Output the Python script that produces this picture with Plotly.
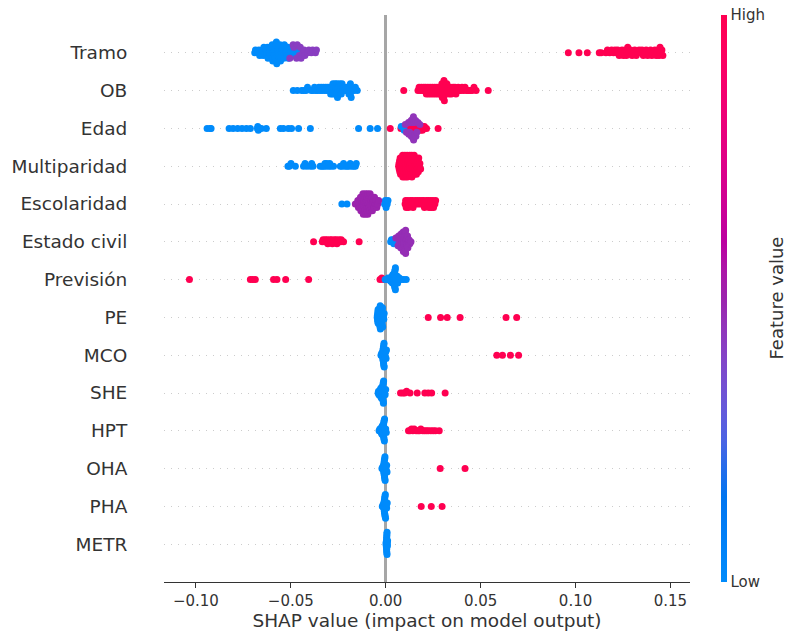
import numpy as np
import plotly.graph_objects as go

features = ["Tramo", "OB", "Edad", "Multiparidad", "Escolaridad", "Estado civil",
            "Previsión", "PE", "MCO", "SHE", "HPT", "OHA", "PHA", "METR"]

# ---- SHAP values, grouped by the (normalised) feature value of each sample ----
# low -> feature value 0 (blue), mid -> purple, high -> feature value 1 (red)
tramo_low = [-0.0690, -0.0686, -0.0672, -0.0668, -0.0664, -0.0652, -0.0648, -0.0645, -0.0642,
             -0.0632, -0.0629, -0.0626, -0.0623, -0.0620, -0.0612, -0.0609, -0.0606, -0.0603,
             -0.0600, -0.0598, -0.0595, -0.0590, -0.0588, -0.0586, -0.0584, -0.0582, -0.0580,
             -0.0578, -0.0576, -0.0574, -0.0568, -0.0566, -0.0564, -0.0562, -0.0560, -0.0557,
             -0.0554, -0.0547, -0.0545, -0.0542, -0.0540, -0.0537, -0.0534, -0.0525, -0.0522,
             -0.0519, -0.0516, -0.0513, -0.0503, -0.0500, -0.0497, -0.0494, -0.0483, -0.0480,
             -0.0477, -0.0462, -0.0458]
tramo_mid = [-0.0505, -0.0488, -0.0484, -0.0470, -0.0466, -0.0455, -0.0450, -0.0446, -0.0436,
             -0.0430, -0.0426, -0.0412, -0.0405, -0.0392, -0.0385, -0.0370, -0.0365]
tramo_high = [0.0962, 0.1018, 0.1062, 0.1125, 0.1135, 0.1160, 0.1168, 0.1180, 0.1190, 0.1200,
              0.1208, 0.1215, 0.1222, 0.1230, 0.1238, 0.1245, 0.1252, 0.1258, 0.1262, 0.1268,
              0.1275, 0.1282, 0.1290, 0.1298, 0.1305, 0.1312, 0.1320, 0.1328, 0.1335, 0.1342,
              0.1350, 0.1357, 0.1365, 0.1372, 0.1380, 0.1388, 0.1395, 0.1402, 0.1410, 0.1418,
              0.1425, 0.1430, 0.1435, 0.1440, 0.1445, 0.1450, 0.1455, 0.1460]

ob_low = [-0.0487, -0.0466, -0.0443, -0.0432, -0.0420, -0.0412, -0.0392, -0.0383, -0.0375,
          -0.0368, -0.0360, -0.0352, -0.0346, -0.0340, -0.0335, -0.0328, -0.0322, -0.0316,
          -0.0310, -0.0305, -0.0300, -0.0295, -0.0290, -0.0286, -0.0282, -0.0280, -0.0278,
          -0.0274, -0.0272, -0.0270, -0.0266, -0.0264, -0.0262, -0.0258, -0.0256, -0.0254,
          -0.0250, -0.0248, -0.0246, -0.0242, -0.0240, -0.0238, -0.0234, -0.0230, -0.0226,
          -0.0220, -0.0214, -0.0208, -0.0203, -0.0198, -0.0194, -0.0190, -0.0190, -0.0186,
          -0.0186, -0.0182, -0.0176, -0.0168, -0.0160, -0.0150]
ob_mid = []
ob_high = [0.0095, 0.0170, 0.0176, 0.0182, 0.0188, 0.0194, 0.0200, 0.0205, 0.0210, 0.0214,
           0.0218, 0.0222, 0.0226, 0.0230, 0.0234, 0.0238, 0.0242, 0.0246, 0.0250, 0.0254,
           0.0258, 0.0262, 0.0266, 0.0270, 0.0274, 0.0278, 0.0282, 0.0285, 0.0288, 0.0291,
           0.0294, 0.0296, 0.0298, 0.0300, 0.0301, 0.0302, 0.0303, 0.0305, 0.0307, 0.0309,
           0.0312, 0.0315, 0.0318, 0.0322, 0.0326, 0.0330, 0.0334, 0.0338, 0.0342, 0.0346,
           0.0350, 0.0355, 0.0360, 0.0365, 0.0370, 0.0376, 0.0382, 0.0388, 0.0395, 0.0402,
           0.0410, 0.0418, 0.0426, 0.0435, 0.0445, 0.0455, 0.0465, 0.0476, 0.0540]

edad_low = [-0.0941, -0.0925, -0.0920, -0.0825, -0.0804, -0.0780, -0.0757, -0.0734, -0.0713,
            -0.0676, -0.0674, -0.0671, -0.0655, -0.0629, -0.0555, -0.0539, -0.0513, -0.0496,
            -0.0459, -0.0397, -0.0143, -0.0082, -0.0043, 0.0082, 0.0097]
edad_mid = [0.0103, 0.0109, 0.0115, 0.0120, 0.0122, 0.0126, 0.0129, 0.0132, 0.0134, 0.0135,
            0.0138, 0.0139, 0.0141, 0.0142, 0.0143, 0.0144, 0.0146, 0.0147, 0.0150, 0.0155,
            0.0158, 0.0159, 0.0164, 0.0170, 0.0180]
edad_high = [0.0024, 0.0080, 0.0092, 0.0095, 0.0104, 0.0106, 0.0108, 0.0116, 0.0118, 0.0119,
             0.0121, 0.0128, 0.0130, 0.0131, 0.0133, 0.0140, 0.0141, 0.0142, 0.0143, 0.0145,
             0.0152, 0.0153, 0.0154, 0.0156, 0.0157, 0.0165, 0.0166, 0.0168, 0.0169, 0.0178,
             0.0179, 0.0181, 0.0190, 0.0192, 0.0193, 0.0202, 0.0204, 0.0215, 0.0276]

multiparidad_low = [-0.0515, -0.0508, -0.0499, -0.0476, -0.0433, -0.0425, -0.0415, -0.0397,
                    -0.0390, -0.0383, -0.0345, -0.0335, -0.0327, -0.0320, -0.0315, -0.0310,
                    -0.0301, -0.0295, -0.0289, -0.0275, -0.0239, -0.0230, -0.0222, -0.0215,
                    -0.0204, -0.0195, -0.0187, -0.0180, -0.0169, -0.0160, -0.0155]
multiparidad_mid = []
multiparidad_high = [0.0068, 0.0070, 0.0071, 0.0073, 0.0074, 0.0076, 0.0078,
                     0.0080, 0.0081, 0.0082, 0.0084, 0.0085, 0.0086, 0.0088, 0.0089, 0.0090,
                     0.0092, 0.0093, 0.0094, 0.0096, 0.0097, 0.0098, 0.0100, 0.0101, 0.0102,
                     0.0104, 0.0105, 0.0106, 0.0108, 0.0109, 0.0110, 0.0112, 0.0113, 0.0114,
                     0.0116, 0.0117, 0.0119, 0.0120, 0.0122, 0.0123, 0.0125, 0.0126,
                     0.0128, 0.0129, 0.0130, 0.0132, 0.0133, 0.0134, 0.0136, 0.0137, 0.0138,
                     0.0140, 0.0141, 0.0143, 0.0144, 0.0146, 0.0147, 0.0149, 0.0150,
                     0.0152, 0.0154, 0.0155, 0.0157, 0.0159, 0.0160, 0.0162,
                     0.0164, 0.0166, 0.0168, 0.0170, 0.0172, 0.0174,
                     0.0177, 0.0180, 0.0184]

escolaridad_low = [-0.0231, -0.0204, -0.0124, -0.0006, -0.0002, 0.0002, 0.0008, 0.0012]
escolaridad_mid = [-0.0160, -0.0150, -0.0147, -0.0144, -0.0139, -0.0137, -0.0135, -0.0133,
                   -0.0131, -0.0128, -0.0126, -0.0124, -0.0122, -0.0120, -0.0118, -0.0116,
                   -0.0114, -0.0112, -0.0111, -0.0109, -0.0107, -0.0106, -0.0104, -0.0102,
                   -0.0100, -0.0099, -0.0097, -0.0095, -0.0094, -0.0092, -0.0090, -0.0088,
                   -0.0086, -0.0084, -0.0082, -0.0080, -0.0078, -0.0075, -0.0072, -0.0070,
                   -0.0068, -0.0065, -0.0062, -0.0059, -0.0055, -0.0051, -0.0047, -0.0042,
                   -0.0037]
escolaridad_high = [0.0102, 0.0105, 0.0108, 0.0114, 0.0117, 0.0120, 0.0127, 0.0131, 0.0138,
                    0.0141, 0.0144, 0.0151, 0.0155, 0.0163, 0.0167, 0.0175, 0.0179, 0.0187,
                    0.0191, 0.0198, 0.0201, 0.0204, 0.0211, 0.0215, 0.0222, 0.0225, 0.0228,
                    0.0234, 0.0237, 0.0240, 0.0246, 0.0249, 0.0252, 0.0259, 0.0263]

estado_civil_low = [0.0026, 0.0030, 0.0037, 0.0040, 0.0043, 0.0049, 0.0052, 0.0055, 0.0061,
                    0.0064, 0.0067, 0.0074, 0.0078, 0.0088, 0.0099]
estado_civil_mid = [0.0053, 0.0062, 0.0065, 0.0068, 0.0071, 0.0073, 0.0075, 0.0077, 0.0079,
                    0.0081, 0.0083, 0.0084, 0.0085, 0.0086, 0.0087, 0.0089, 0.0090, 0.0091,
                    0.0092, 0.0093, 0.0095, 0.0096, 0.0097, 0.0098, 0.0099, 0.0100, 0.0101,
                    0.0102, 0.0103, 0.0104, 0.0105, 0.0105, 0.0107, 0.0109, 0.0111, 0.0112,
                    0.0113, 0.0115, 0.0117, 0.0120, 0.0123, 0.0127, 0.0133]
estado_civil_high = [-0.0380, -0.0334, -0.0330, -0.0322, -0.0318, -0.0311, -0.0308, -0.0305,
                     -0.0298, -0.0294, -0.0287, -0.0284, -0.0281, -0.0274, -0.0270, -0.0263,
                     -0.0260, -0.0257, -0.0250, -0.0246, -0.0238, -0.0234, -0.0222, -0.0140]

prevision_low = [-0.0003, 0.0008, 0.0012, 0.0020, 0.0024, 0.0026, 0.0030, 0.0033, 0.0035,
                 0.0038, 0.0041, 0.0042, 0.0043, 0.0044, 0.0045, 0.0045, 0.0046, 0.0047,
                 0.0047, 0.0048, 0.0049, 0.0050, 0.0051, 0.0051, 0.0054, 0.0056, 0.0058,
                 0.0061, 0.0063, 0.0068, 0.0072, 0.0082, 0.0094, 0.0108]
prevision_mid = []
prevision_high = [-0.1034, -0.0713, -0.0700, -0.0687, -0.0591, -0.0573, -0.0527, -0.0406,
                  -0.0030, -0.0021, -0.0012, 0.0031, 0.0036]

pe_low = [-0.0045, -0.0044, -0.0043, -0.0042, -0.0042, -0.0041, -0.0040, -0.0040,
          -0.0038, -0.0037, -0.0036, -0.0035, -0.0034, -0.0034, -0.0033, -0.0032, -0.0031,
          -0.0030, -0.0030, -0.0029, -0.0028,
          -0.0026, -0.0025, -0.0024, -0.0023, -0.0022, -0.0021, -0.0020, -0.0019, -0.0018,
          -0.0017, -0.0016,
          -0.0014, -0.0012, -0.0010, -0.0008]
pe_mid = []
pe_high = [0.0224, 0.0289, 0.0324, 0.0392, 0.0634, 0.0690]

mco_low = [-0.0025, -0.0022,
           -0.0018, -0.0017, -0.0016, -0.0016, -0.0015, -0.0014, -0.0014, -0.0013, -0.0012,
           -0.0012, -0.0011, -0.0010, -0.0010, -0.0009, -0.0008,
           -0.0006, -0.0004, -0.0002, 0.0000, 0.0002, 0.0004]
mco_mid = []
mco_high = [0.0585, 0.0615, 0.0657, 0.0700]

she_low = [-0.0040, -0.0038, -0.0036,
           -0.0033, -0.0031, -0.0030, -0.0028, -0.0027, -0.0025, -0.0023,
           -0.0021, -0.0020, -0.0019, -0.0019, -0.0018, -0.0017, -0.0016, -0.0016, -0.0015,
           -0.0014, -0.0013, -0.0013, -0.0012, -0.0011,
           -0.0009, -0.0006, -0.0003, 0.0000]
she_mid = []
she_high = [0.0078, 0.0090, 0.0100, 0.0110, 0.0128, 0.0166, 0.0206, 0.0224, 0.0242, 0.0313]

hpt_low = [-0.0035, -0.0031,
           -0.0028, -0.0026, -0.0024, -0.0022, -0.0020, -0.0018,
           -0.0016, -0.0015, -0.0014, -0.0014, -0.0013, -0.0012, -0.0012, -0.0011, -0.0010,
           -0.0010, -0.0009, -0.0008, -0.0007, -0.0006,
           -0.0003, 0.0000, 0.0003]
hpt_mid = []
hpt_high = [0.0120, 0.0128, 0.0136, 0.0143, 0.0150, 0.0160, 0.0170, 0.0178, 0.0185, 0.0195,
            0.0205, 0.0215, 0.0225, 0.0238, 0.0250, 0.0262, 0.0282]

oha_low = [-0.0020, -0.0016,
           -0.0013, -0.0012, -0.0011, -0.0011, -0.0010, -0.0009, -0.0009, -0.0008, -0.0007,
           -0.0007, -0.0006, -0.0005, -0.0005, -0.0004, -0.0003,
           -0.0001, 0.0001, 0.0003, 0.0005, 0.0007]
oha_mid = []
oha_high = [0.0287, 0.0418]

pha_low = [-0.0018, -0.0014,
           -0.0011, -0.0010, -0.0010, -0.0009, -0.0008, -0.0008, -0.0007, -0.0006, -0.0006,
           -0.0005, -0.0004, -0.0004, -0.0003, -0.0002, -0.0001,
           0.0001, 0.0003, 0.0005, 0.0008]
pha_mid = []
pha_high = [0.0187, 0.0240, 0.0297]

metr_low = [0.0002, 0.0002, 0.0003, 0.0004, 0.0004, 0.0005, 0.0005, 0.0005, 0.0005, 0.0006,
            0.0006, 0.0006, 0.0007, 0.0007, 0.0008, 0.0008, 0.0009, 0.0010]
metr_mid = []
metr_high = []

mid_level = {"Tramo": 0.42, "Edad": 0.45, "Escolaridad": 0.5, "Estado civil": 0.47}

shap_groups = {
    "Tramo": (tramo_low, tramo_mid, tramo_high),
    "OB": (ob_low, ob_mid, ob_high),
    "Edad": (edad_low, edad_mid, edad_high),
    "Multiparidad": (multiparidad_low, multiparidad_mid, multiparidad_high),
    "Escolaridad": (escolaridad_low, escolaridad_mid, escolaridad_high),
    "Estado civil": (estado_civil_low, estado_civil_mid, estado_civil_high),
    "Previsión": (prevision_low, prevision_mid, prevision_high),
    "PE": (pe_low, pe_mid, pe_high),
    "MCO": (mco_low, mco_mid, mco_high),
    "SHE": (she_low, she_mid, she_high),
    "HPT": (hpt_low, hpt_mid, hpt_high),
    "OHA": (oha_low, oha_mid, oha_high),
    "PHA": (pha_low, pha_mid, pha_high),
    "METR": (metr_low, metr_mid, metr_high),
}

x_tickvals = [-0.10, -0.05, 0.0, 0.05, 0.10, 0.15]
x_ticktext = ["\u22120.10", "\u22120.05", "0.00", "0.05", "0.10", "0.15"]


# ---- SHAP "red_blue" colormap (LCH interpolation) ----
def lch_to_hex(L, C, h):
    a, b = C * np.cos(h), C * np.sin(h)
    fy = (L + 16) / 116
    fx, fz = fy + a / 500, fy - b / 200

    def finv(t):
        return t ** 3 if t > 6 / 29 else 3 * (6 / 29) ** 2 * (t - 4 / 29)

    X, Y, Z = 0.95047 * finv(fx), finv(fy), 1.08883 * finv(fz)
    rgb = [3.2406 * X - 1.5372 * Y - 0.4986 * Z,
           -0.9689 * X + 1.8758 * Y + 0.0415 * Z,
           0.0557 * X - 0.2040 * Y + 1.0570 * Z]
    out = []
    for c in rgb:
        c = 12.92 * c if c <= 0.0031308 else 1.055 * c ** (1 / 2.4) - 0.055
        out.append(int(round(min(max(c, 0), 1) * 255)))
    return "#%02x%02x%02x" % tuple(out)


def red_blue(t):
    L = 54 - 28 * t if t <= 0.5 else 40 + 28 * (t - 0.5)
    C = 70 + 20 * t
    h = 4.6588 + (0.35470565 + 2 * np.pi - 4.6588) * t
    return lch_to_hex(L, C, h)


colorscale = [[i / 20, red_blue(i / 20)] for i in range(21)]


# ---- beeswarm vertical offsets (SHAP style layering) ----
def swarm_offsets(vals, row_height=0.4, nbins=100, min_bin=0.0012):
    v = np.asarray(vals, float)
    bw = max((v.max() - v.min()) / nbins, min_bin)
    quant = np.round((v - v.min()) / bw)
    order = np.argsort(quant, kind="stable")
    ys = np.zeros(len(v))
    layer, last = 0, None
    for i in order:
        if quant[i] != last:
            layer = 0
        ys[i] = np.ceil(layer / 2) * ((layer % 2) * 2 - 1)
        layer += 1
        last = quant[i]
    if np.max(ys) > 0:
        ys *= 0.9 * (row_height / np.max(ys + 1))
    return ys


groups = {"high": ([], [], []), "low": ([], [], []), "mid": ([], [], [])}
n = len(features)
for r, feat in enumerate(features):
    pos = n - 1 - r
    low, mid, high = shap_groups[feat]
    vals = list(high) + list(low) + list(mid)
    offs = swarm_offsets(vals)
    tags = ["high"] * len(high) + ["low"] * len(low) + ["mid"] * len(mid)
    cval = {"high": 1.0, "low": 0.0, "mid": mid_level.get(feat, 0.5)}
    for v, o, t in zip(vals, offs, tags):
        gx, gy, gc = groups[t]
        gx.append(v)
        gy.append(pos + o)
        gc.append(cval[t])

fig = go.Figure()
for i, key in enumerate(["high", "low", "mid"]):
    gx, gy, gc = groups[key]
    marker = dict(color=gc, colorscale=colorscale, cmin=0, cmax=1, size=7,
                  line=dict(width=0), opacity=1)
    if i == 0:
        marker.update(showscale=True, colorbar=dict(
            thickness=6, thicknessmode="pixels", len=1, lenmode="fraction",
            x=(721 - 164) / 526, xanchor="left", xpad=0, y=0.5, yanchor="middle", ypad=0,
            outlinewidth=0, tickvals=[0, 1], ticktext=["Low", "High"], ticks="",
            tickfont=dict(family="DejaVu Sans", size=15, color="#333333")))
    fig.add_trace(go.Scatter(x=gx, y=gy, mode="markers", marker=marker,
                             hoverinfo="x", showlegend=False))

fig.add_annotation(text="Feature value", x=(776 - 164) / 526, y=0.5, xref="paper",
                   yref="paper", textangle=-90, showarrow=False, xanchor="center",
                   yanchor="middle", font=dict(family="DejaVu Sans", size=18, color="#333333"))

fig.update_layout(
    width=786, height=633,
    margin=dict(l=164, r=96, t=15, b=51),
    plot_bgcolor="white", paper_bgcolor="white",
    font=dict(family="DejaVu Sans", color="#333333"),
    showlegend=False,
)
fig.update_xaxes(
    range=[-0.1168, 0.1603], tickvals=x_tickvals, ticktext=x_ticktext,
    showline=True, linecolor="#333333", linewidth=1, mirror=False,
    ticks="outside", ticklen=5, tickwidth=1, tickcolor="#333333",
    tickfont=dict(size=15, color="#333333"), showgrid=False,
    zeroline=True, zerolinecolor="#a6a6a6", zerolinewidth=2.5,
    title=dict(text="SHAP value (impact on model output)", standoff=4,
               font=dict(size=18.5, color="#333333")),
    automargin=False,
)
fig.update_yaxes(
    range=[-1, n], tickvals=list(range(n)), ticktext=features[::-1],
    showgrid=True, gridcolor="#cccccc", griddash="1px,6px", gridwidth=1,
    zeroline=False, showline=False, ticks="outside", ticklen=32,
    tickcolor="rgba(0,0,0,0)", tickfont=dict(size=18.5, color="#333333"),
    automargin=False,
)

fig.write_html("out.html")
